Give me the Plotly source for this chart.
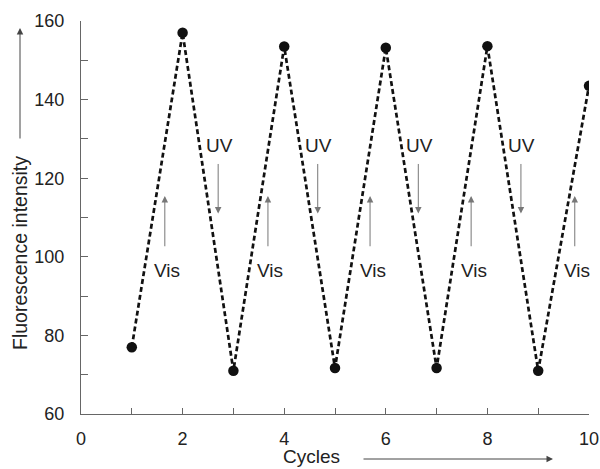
import plotly.graph_objects as go

cycles = [1, 2, 3, 4, 5, 6, 7, 8, 9, 10]
intensity = [77, 157, 71, 153.5, 71.7, 153.2, 71.7, 153.6, 71, 143.5]

vis_x = [1.65, 3.68, 5.69, 7.68, 9.72]
uv_x = [2.70, 4.66, 6.64, 8.66]
x_tickvals = list(range(0, 11))
x_ticktext = [str(v) if v % 2 == 0 else "" for v in x_tickvals]
y_tickvals = list(range(60, 161, 10))
y_ticktext = [str(v) if v % 20 == 0 else "" for v in y_tickvals]

FONT = "Liberation Sans, Arial, sans-serif"
LBL = dict(size=19, color="#222", family=FONT)

fig = go.Figure()
fig.add_trace(go.Scatter(
    x=cycles, y=intensity, mode="lines+markers",
    line=dict(color="#111", width=2.7, dash="5px,3px"),
    marker=dict(color="#111", size=10.5),
    showlegend=False,
))

ann = []
for vx in vis_x:
    ann.append(dict(x=vx, y=115.5, ax=vx, ay=102.3, xref="x", yref="y", axref="x", ayref="y",
                    showarrow=True, arrowhead=2, arrowsize=1.3, arrowwidth=1, arrowcolor="#777", text=""))
    ann.append(dict(x=vx + 0.05, y=96.6, xref="x", yref="y", text="Vis", showarrow=False, font=LBL,
                    xanchor="center", yanchor="middle"))
for ux in uv_x:
    ann.append(dict(x=ux, y=111, ax=ux, ay=124, xref="x", yref="y", axref="x", ayref="y",
                    showarrow=True, arrowhead=2, arrowsize=1.3, arrowwidth=1, arrowcolor="#777", text=""))
    ann.append(dict(x=ux + 0.02, y=128.2, xref="x", yref="y", text="UV", showarrow=False, font=LBL,
                    xanchor="center", yanchor="middle"))

# axis titles as annotations with arrows
ann.append(dict(x=(20 - 81) / 508, y=(414 - 253) / 393, xref="paper", yref="paper",
                text="Fluorescence intensity", textangle=-90, showarrow=False,
                xanchor="center", yanchor="middle",
                font=dict(size=19.5, color="#222", family=FONT)))
ann.append(dict(x=(20 - 81) / 508, y=(414 - 28) / 393, ax=0, ay=112,
                xref="paper", yref="paper",
                showarrow=True, arrowhead=2, arrowsize=1.3, arrowwidth=1, arrowcolor="#444", text=""))
ann.append(dict(x=(311 - 81) / 508, y=-(469 - 414) / 393, xref="paper", yref="paper", text="Cycles",
                showarrow=False, font=LBL, xanchor="center", yanchor="bottom"))
ann.append(dict(x=(553 - 81) / 508, y=-(459 - 414) / 393, ax=-191, ay=0,
                xref="paper", yref="paper",
                showarrow=True, arrowhead=2, arrowsize=1.3, arrowwidth=1, arrowcolor="#444", text=""))

fig.update_layout(
    width=600, height=469,
    margin=dict(l=81, r=11, t=21, b=55, autoexpand=False),
    plot_bgcolor="white", paper_bgcolor="white",
    font=dict(family=FONT, color="#222", size=18),
    annotations=ann,
    xaxis=dict(range=[0, 10], tickvals=x_tickvals, ticktext=x_ticktext,
               ticks="inside", ticklen=6, tickcolor="#666", showgrid=False, zeroline=False,
               showline=True, linecolor="#666", linewidth=1, ticklabelstandoff=8),
    yaxis=dict(range=[60, 160], tickvals=y_tickvals, ticktext=y_ticktext,
               ticks="inside", ticklen=7, tickcolor="#666", showgrid=False, zeroline=False,
               showline=True, linecolor="#666", linewidth=1, ticklabelstandoff=12),
)

# remove the page's default body margin so the figure fills the window exactly
fig.write_html("out.html", config={"displayModeBar": False},
               post_script="document.body.style.margin='0px';")
